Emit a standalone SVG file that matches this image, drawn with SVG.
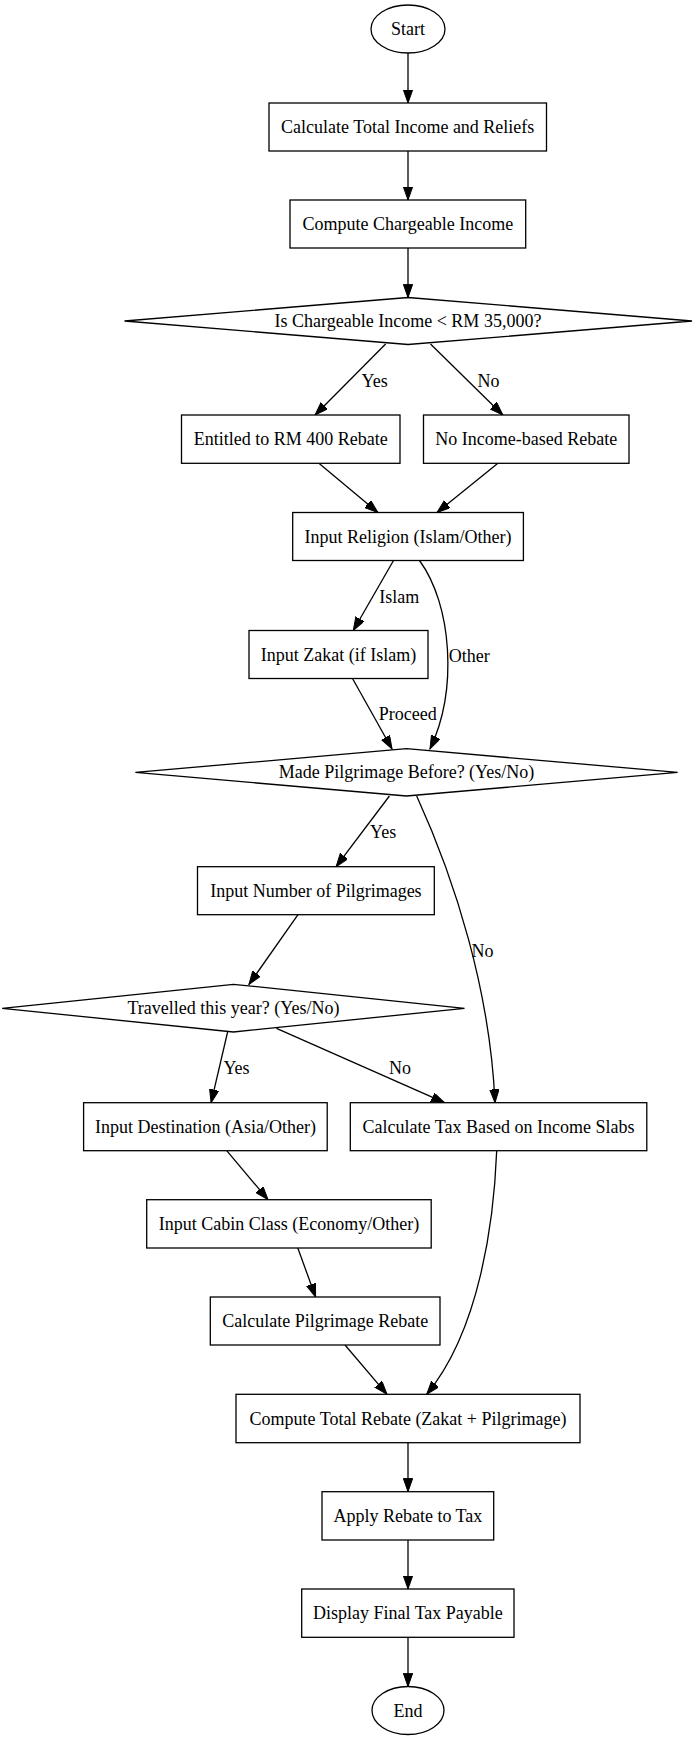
<svg xmlns="http://www.w3.org/2000/svg" width="697" height="1740" viewBox="0 0 697 1740">
<style>
.n{fill:#fff;stroke:#000;stroke-width:1.3}
.t{font-family:"Liberation Serif","Times New Roman",serif;font-size:18px;fill:#000;text-anchor:middle}
.e{fill:none;stroke:#000;stroke-width:1.3;marker-end:url(#ah)}
</style>
<defs>
<marker id="ah" markerUnits="userSpaceOnUse" markerWidth="14" markerHeight="10" refX="13.3" refY="4.7" orient="auto">
<path d="M0,0 L13.3,4.7 L0,9.4 z" fill="#000" stroke="#000" stroke-width="1"/>
</marker>
</defs>
<rect width="697" height="1740" fill="#fff"/>
<g id="connectors">
<path class="e" d="M408,53 L408,103"/>
<path class="e" d="M408,151 L408,200"/>
<path class="e" d="M408,248 L408,297.5"/>
<path class="e" d="M385.6,344 L315.1,415"/>
<path class="e" d="M430.5,344 L502.8,415"/>
<path class="e" d="M318.9,463.3 L377.9,512.5"/>
<path class="e" d="M497.9,463.3 L437,512.5"/>
<path class="e" d="M393.5,560.5 L353.3,630.5"/>
<path class="e" d="M419.5,560.5 C452,605 458,690 430,749"/>
<path class="e" d="M352.5,678.5 L392,749"/>
<path class="e" d="M389.4,796 L336.1,866.7"/>
<path class="e" d="M416.7,796 C455,880 490,990 495,1102.7"/>
<path class="e" d="M298,914.7 L248.9,984.5"/>
<path class="e" d="M227.6,1032 L211.1,1102.7"/>
<path class="e" d="M276.5,1028.3 L444.5,1102.7"/>
<path class="e" d="M226.7,1150.7 L268,1199.7"/>
<path class="e" d="M297.8,1248 L315.6,1297"/>
<path class="e" d="M345,1345 L387,1394.3"/>
<path class="e" d="M496.7,1150.7 C494,1220 480,1330 426.7,1394.3"/>
<path class="e" d="M408,1442.7 L408,1491.7"/>
<path class="e" d="M408,1540 L408,1589"/>
<path class="e" d="M408,1637.3 L408,1686.5"/>
<text class="t" x="374.7" y="387">Yes</text>
<text class="t" x="488.4" y="387">No</text>
<text class="t" x="399.3" y="602.5">Islam</text>
<text class="t" x="469.3" y="661.7">Other</text>
<text class="t" x="407.8" y="719.5">Proceed</text>
<text class="t" x="383.2" y="837.7">Yes</text>
<text class="t" x="482.5" y="956.5">No</text>
<text class="t" x="236.5" y="1074.3">Yes</text>
<text class="t" x="400" y="1074">No</text>
</g>
<g id="start"><ellipse class="n" cx="408" cy="29" rx="37" ry="24"/><text class="t" x="408" y="35">Start</text></g>
<g id="calc_total"><rect class="n" x="269" y="103" width="277.5" height="48"/><text class="t" x="407.7" y="133">Calculate Total Income and Reliefs</text></g>
<g id="compute_chargeable"><rect class="n" x="290" y="200" width="235.7" height="48"/><text class="t" x="407.9" y="230">Compute Chargeable Income</text></g>
<g id="check_income"><polygon class="n" points="408,297.5 692,321 408,344.5 124.5,321"/><text class="t" x="408" y="327">Is Chargeable Income &lt; RM 35,000?</text></g>
<g id="entitled"><rect class="n" x="181.5" y="415" width="218.5" height="48.3"/><text class="t" x="290.7" y="445">Entitled to RM 400 Rebate</text></g>
<g id="no_rebate"><rect class="n" x="423.5" y="415" width="205.5" height="48.3"/><text class="t" x="526.2" y="445">No Income-based Rebate</text></g>
<g id="religion"><rect class="n" x="292.7" y="512.5" width="230.7" height="48"/><text class="t" x="408" y="542.5">Input Religion (Islam/Other)</text></g>
<g id="zakat"><rect class="n" x="249" y="630.5" width="179" height="48"/><text class="t" x="338.5" y="660.5">Input Zakat (if Islam)</text></g>
<g id="pilgrimage_before"><polygon class="n" points="406.5,748.7 677.6,772.4 406.5,796 135.4,772.4"/><text class="t" x="406.5" y="778.4">Made Pilgrimage Before? (Yes/No)</text></g>
<g id="num_pilgrimages"><rect class="n" x="197.5" y="866.7" width="236.8" height="48"/><text class="t" x="315.9" y="896.7">Input Number of Pilgrimages</text></g>
<g id="travelled"><polygon class="n" points="233.4,984.3 464.5,1008.3 233.4,1032 2.2,1008.3"/><text class="t" x="233.4" y="1014.3">Travelled this year? (Yes/No)</text></g>
<g id="destination"><rect class="n" x="83.6" y="1102.7" width="243.6" height="48"/><text class="t" x="205.4" y="1132.7">Input Destination (Asia/Other)</text></g>
<g id="calc_tax"><rect class="n" x="350.3" y="1102.7" width="296.5" height="48"/><text class="t" x="498.5" y="1132.7">Calculate Tax Based on Income Slabs</text></g>
<g id="cabin"><rect class="n" x="146.7" y="1199.7" width="284.5" height="48.3"/><text class="t" x="289" y="1229.8">Input Cabin Class (Economy/Other)</text></g>
<g id="pilgrim_rebate"><rect class="n" x="210.3" y="1297" width="229.7" height="48"/><text class="t" x="325.2" y="1327">Calculate Pilgrimage Rebate</text></g>
<g id="total_rebate"><rect class="n" x="236" y="1394.3" width="344" height="48.4"/><text class="t" x="408" y="1424.5">Compute Total Rebate (Zakat + Pilgrimage)</text></g>
<g id="apply"><rect class="n" x="322" y="1491.7" width="171.7" height="48.3"/><text class="t" x="407.9" y="1521.8">Apply Rebate to Tax</text></g>
<g id="display"><rect class="n" x="301.7" y="1589" width="212.3" height="48.3"/><text class="t" x="407.9" y="1619.1">Display Final Tax Payable</text></g>
<g id="end"><ellipse class="n" cx="408" cy="1710.5" rx="36" ry="24"/><text class="t" x="408" y="1716.5">End</text></g>
</svg>
